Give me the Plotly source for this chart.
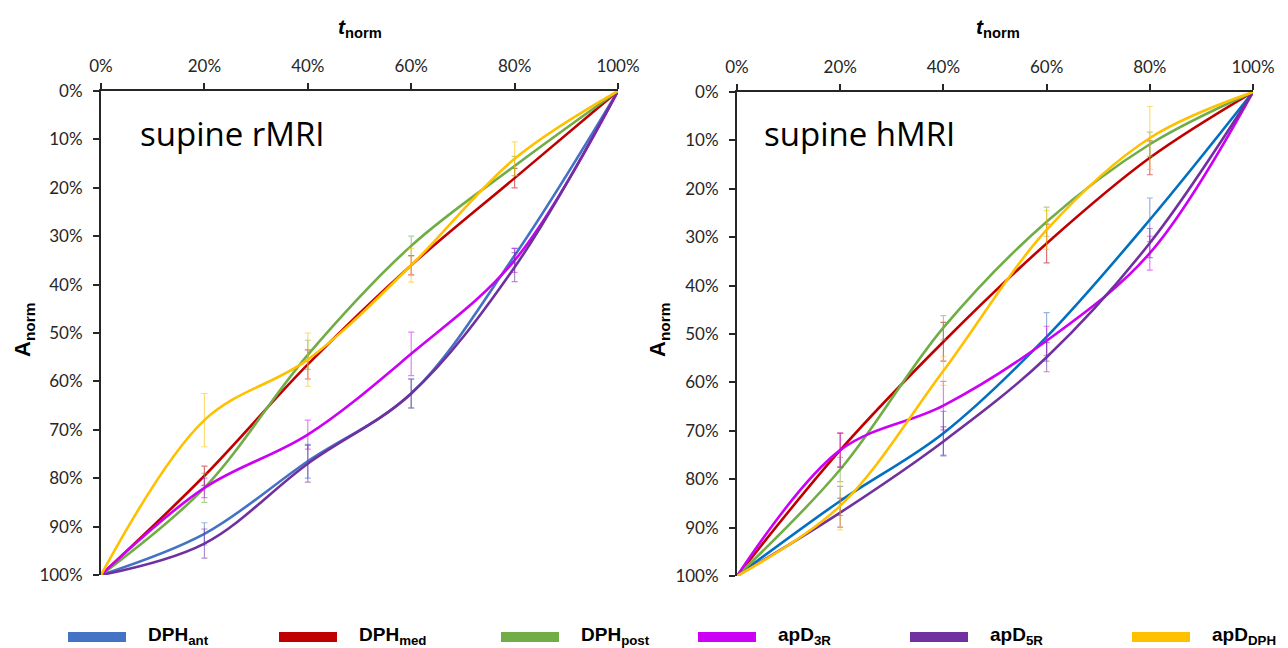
import plotly.graph_objects as go

t = [0, 20, 40, 60, 80, 100]
tick_x = [0, 20, 40, 60, 80, 100]
tick_x_text = ["0%", "20%", "40%", "60%", "80%", "100%"]
tick_y = [0, 10, 20, 30, 40, 50, 60, 70, 80, 90, 100]
tick_y_text = ["0%", "10%", "20%", "30%", "40%", "50%", "60%", "70%", "80%", "90%", "100%"]

names = ["DPH<sub>ant</sub>", "DPH<sub>med</sub>", "DPH<sub>post</sub>",
         "apD<sub>3R</sub>", "apD<sub>5R</sub>", "apD<sub>DPH</sub>"]
colors = ["#4472C4", "#C00000", "#70AD47", "#CC00F5", "#7030A0", "#FFC000"]
colors_right = ["#0070C0", "#C00000", "#70AD47", "#CC00F5", "#7030A0", "#FFC000"]
err_colors = ["rgba(68,114,196,0.55)", "rgba(192,0,0,0.55)", "rgba(112,173,71,0.55)",
              "rgba(204,0,245,0.5)", "rgba(112,48,160,0.55)", "rgba(255,192,0,0.55)"]

# supine rMRI (left)
ant_r = [100, 91.5, 76.5, 62.5, 34, 0]
med_r = [100, 79.5, 56.5, 36, 18, 0]
post_r = [100, 82, 54.5, 32, 15.5, 0]
d3r_r = [100, 82, 71, 54.3, 35, 0]
d5r_r = [100, 93.5, 77, 62.5, 36.4, 0]
dph_r = [100, 68, 55.5, 36, 14, 0]
ant_r_sd = [0, 2.3, 3.5, 3, 1.5, 0]
med_r_sd = [0, 2, 3, 2, 2, 0]
post_r_sd = [0, 3, 3, 2, 2, 0]
d3r_r_sd = [0, 2, 3, 4.5, 2.5, 0]
d5r_r_sd = [0, 3, 3.8, 3, 3, 0]
dph_r_sd = [0, 5.5, 5.5, 3.5, 3.5, 0]

# supine hMRI (right)
ant_h = [100, 84.5, 70.5, 50.6, 26.4, 0]
med_h = [100, 74, 51.6, 31.3, 13.6, 0]
post_h = [100, 78, 48.7, 26.8, 10.8, 0]
d3r_h = [100, 74, 64.8, 51.4, 33.3, 0]
d5r_h = [100, 86.9, 72.2, 54.8, 31.2, 0]
dph_h = [100, 85.5, 57.6, 28.5, 9.5, 0]
ant_h_sd = [0, 3, 4.5, 5, 4.5, 0]
med_h_sd = [0, 3.5, 4, 4, 3.5, 0]
post_h_sd = [0, 2.5, 2.5, 3, 2.5, 0]
d3r_h_sd = [0, 3.5, 5, 3, 3.5, 0]
d5r_h_sd = [0, 3, 3, 3, 3, 0]
dph_h_sd = [0, 5, 3, 4, 6.5, 0]

left_series = [ant_r, med_r, post_r, d3r_r, d5r_r, dph_r]
left_sd = [ant_r_sd, med_r_sd, post_r_sd, d3r_r_sd, d5r_r_sd, dph_r_sd]
right_series = [ant_h, med_h, post_h, d3r_h, d5r_h, dph_h]
right_sd = [ant_h_sd, med_h_sd, post_h_sd, d3r_h_sd, d5r_h_sd, dph_h_sd]
panel_titles = ["supine rMRI", "supine hMRI"]

FONT = "Lato, 'Open Sans', sans-serif"
fig = go.Figure()

for panel, (series, sds, cols) in enumerate([(left_series, left_sd, colors),
                                              (right_series, right_sd, colors_right)]):
    xa = "x" if panel == 0 else "x2"
    ya = "y" if panel == 0 else "y2"
    for i, (vals, sd) in enumerate(zip(series, sds)):
        fig.add_trace(go.Scatter(
            x=t, y=vals, xaxis=xa, yaxis=ya, mode="lines",
            line=dict(color=cols[i], width=2.6, shape="spline", smoothing=1.0),
            error_y=dict(type="data", array=sd, visible=True, color=err_colors[i],
                         thickness=1.2, width=3),
            name=names[i], showlegend=False, cliponaxis=False))

axis_common = dict(showgrid=False, zeroline=False, showline=True, linecolor="#262626",
                   linewidth=2, ticks="outside", ticklen=6, tickwidth=2, tickcolor="#262626",
                   automargin=False,
                   tickfont=dict(family=FONT, size=17, color="#262626"), fixedrange=True)

fig.update_layout(
    width=1288, height=648,
    margin=dict(l=0, r=0, t=0, b=0),
    paper_bgcolor="white", plot_bgcolor="white",
    xaxis=dict(domain=[101/1288, 618/1288], range=[0, 100], side="top", anchor="y",
               tickvals=tick_x, ticktext=tick_x_text, ticklabelstandoff=4, **axis_common),
    yaxis=dict(domain=[1-575/648, 1-91/648], range=[100, 0], anchor="x",
               tickvals=tick_y, ticktext=tick_y_text, ticklabelstandoff=7, **axis_common),
    xaxis2=dict(domain=[737/1288, 1253/1288], range=[0, 100], side="top", anchor="y2",
                tickvals=tick_x, ticktext=tick_x_text, ticklabelstandoff=4, **axis_common),
    yaxis2=dict(domain=[1-576/648, 1-92/648], range=[100, 0], anchor="x2",
                tickvals=tick_y, ticktext=tick_y_text, ticklabelstandoff=7, **axis_common),
)

annotations = []
for cx, title, tx in [(360, panel_titles[0], 138), (998, panel_titles[1], 762)]:
    annotations.append(dict(xref="paper", yref="paper", x=cx/1288, y=1-28/648,
                            text="<b><i>t</i><sub>norm</sub></b>", showarrow=False,
                            font=dict(family="'Liberation Sans', Arial", size=21, color="#000"),
                            xanchor="center", yanchor="middle"))
    annotations.append(dict(xref="paper", yref="paper", x=tx/1288, y=1-133/648,
                            text=title, showarrow=False,
                            font=dict(family="'Open Sans', sans-serif", size=33, color="#000"),
                            xanchor="left", yanchor="middle"))
for ax_x in [24, 659]:
    annotations.append(dict(xref="paper", yref="paper", x=ax_x/1288, y=1-330/648,
                            text="<b>A<sub>norm</sub></b>", showarrow=False, textangle=-90,
                            font=dict(family="'Liberation Sans', Arial", size=22, color="#000"),
                            xanchor="center", yanchor="middle"))

# custom legend (thick swatches)
legend_rect_x = [68, 279, 501, 698, 910, 1132]
shapes = []
for i in range(6):
    x0 = legend_rect_x[i]
    shapes.append(dict(type="rect", xref="paper", yref="paper",
                       x0=x0/1288, x1=(x0+58)/1288, y0=1-642/648, y1=1-632/648,
                       fillcolor=colors[i], line=dict(width=0)))
    annotations.append(dict(xref="paper", yref="paper", x=(x0+78)/1288, y=1-636/648,
                            text="<b>" + names[i] + "</b>", showarrow=False,
                            font=dict(family="'Liberation Sans Narrow', 'Liberation Sans', sans-serif",
                                      size=19, color="#000"),
                            xanchor="left", yanchor="middle"))

fig.update_layout(annotations=annotations, shapes=shapes)
fig.write_html("out.html")
